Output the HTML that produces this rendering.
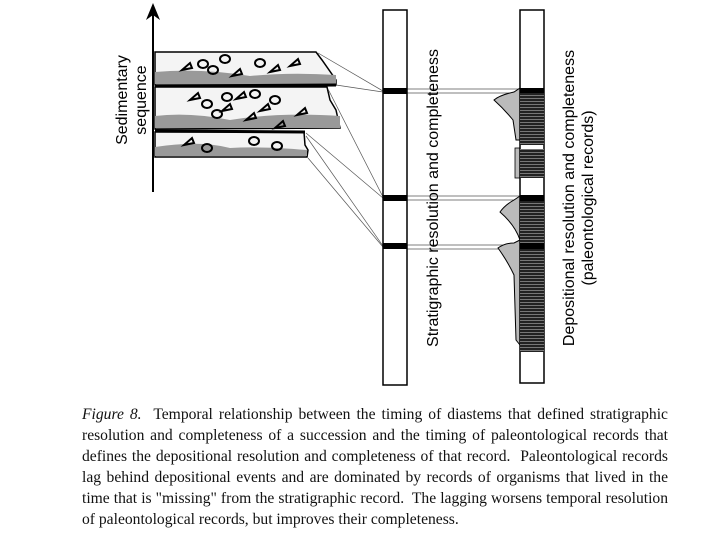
<!DOCTYPE html>
<html><head><style>
body{margin:0;background:#fff;width:720px;height:540px;overflow:hidden;position:relative}
.cap{position:absolute;left:82px;width:586px;font-family:"Liberation Serif",serif;font-size:15.6px;line-height:21px;text-align:justify;text-align-last:justify;white-space:nowrap;color:#111}
.cap.last{text-align-last:left}
</style></head><body>
<svg width="720" height="400" style="position:absolute;left:0;top:0" xmlns="http://www.w3.org/2000/svg">
<defs>
<pattern id="h" width="4" height="3" patternUnits="userSpaceOnUse"><rect width="4" height="3" fill="#222"/><rect y="2" width="4" height="1" fill="#777"/></pattern>
</defs>
<line x1="153" y1="14" x2="153" y2="192" stroke="#000" stroke-width="2"/>
<polygon points="153,3 146,20 153,15 160,20" fill="#000"/>
<text transform="translate(127,100) rotate(-90)" font-family="Liberation Sans,sans-serif" font-size="16" text-anchor="middle">Sedimentary</text>
<text transform="translate(146,100) rotate(-90)" font-family="Liberation Sans,sans-serif" font-size="16" text-anchor="middle">sequence</text>
<path d="M155,52 L316,52 L322,60 L336,80 L336,85 L155,85 Z" fill="#f4f4f4" stroke="#000" stroke-width="1.5"/>
<path d="M155,72 Q200,68 250,76 Q290,72 336,75 L336,84 L155,84Z" fill="#999"/>
<path d="M155,87 L327,87 L330,100 L336,110 L340,128 L155,129 Z" fill="#f4f4f4" stroke="#000" stroke-width="1.5"/>
<path d="M155,116 Q190,112 230,120 Q280,112 340,116 L340,128 L155,128Z" fill="#999"/>
<path d="M155,132 L304,132 L305,145 L308,150 L307,157 L155,157 Z" fill="#f4f4f4" stroke="#000" stroke-width="1.5"/>
<path d="M155,147 Q200,140 230,148 Q260,146 307,150 L307,156 L155,156Z" fill="#999"/>
<line x1="155" y1="86" x2="336" y2="85" stroke="#000" stroke-width="3"/>
<line x1="155" y1="131" x2="305" y2="132" stroke="#000" stroke-width="3"/>
<g fill="none" stroke="#000" stroke-width="2">
<path d="M182,70 l8,-7 l2,5z M232,76 l8,-7 l2,5z M270,72 l8,-7 l2,5z M290,66 l8,-7 l2,5z M236,99 l8,-7 l2,5z M222,111 l8,-7 l2,5z M260,111 l8,-7 l2,5z M297,115 l8,-7 l2,5z M190,100 l8,-7 l2,5z M184,145 l8,-7 l2,5z M246,120 l8,-7 l2,5z M275,128 l8,-7 l2,5z"/>
<ellipse cx="203" cy="64" rx="5" ry="4"/><ellipse cx="225" cy="59" rx="5" ry="4"/><ellipse cx="213" cy="70" rx="5" ry="4"/><ellipse cx="260" cy="63" rx="5" ry="4"/>
<ellipse cx="207" cy="104" rx="5" ry="4"/><ellipse cx="227" cy="97" rx="5" ry="4"/><ellipse cx="217" cy="114" rx="5" ry="4"/><ellipse cx="255" cy="94" rx="5" ry="4"/><ellipse cx="275" cy="100" rx="5" ry="4"/>
<ellipse cx="207" cy="148" rx="5" ry="4"/><ellipse cx="254" cy="141" rx="5" ry="4"/><ellipse cx="277" cy="146" rx="5" ry="4"/>
</g>
<g stroke="#555" stroke-width="0.7" fill="none">
<line x1="318" y1="53" x2="383" y2="91"/><line x1="336" y1="85" x2="383" y2="92"/>
<line x1="328" y1="89" x2="383" y2="197"/><line x1="306" y1="133" x2="383" y2="198"/>
<line x1="306" y1="136" x2="383" y2="246"/><line x1="308" y1="158" x2="383" y2="247"/>
<line x1="407" y1="89" x2="520" y2="89"/><line x1="407" y1="93" x2="520" y2="93"/>
<line x1="407" y1="196" x2="520" y2="196"/><line x1="407" y1="200" x2="520" y2="200"/>
<line x1="407" y1="245" x2="520" y2="245"/><line x1="407" y1="249" x2="520" y2="249"/>
</g>
<rect x="383" y="10" width="24" height="375" fill="#fff" stroke="#000" stroke-width="1.5"/>
<rect x="383" y="88" width="24" height="6" fill="#000"/>
<rect x="383" y="195" width="24" height="6" fill="#000"/>
<rect x="383" y="243" width="24" height="6" fill="#000"/>
<text transform="translate(438,198) rotate(-90)" font-family="Liberation Sans,sans-serif" font-size="16" text-anchor="middle">Stratigraphic resolution and completeness</text>
<path d="M520,88 L514,92 Q500,95 494,100 Q505,110 513,120 L516,140 L520,140Z" fill="#bbb" stroke="#000" stroke-width="1"/>
<path d="M520,196 L514,200 Q505,205 500,212 Q515,225 520,240Z" fill="#bbb" stroke="#000" stroke-width="1"/>
<path d="M520,240 L514,243 Q505,243 498,248 Q508,262 514,275 L516,340 L520,345Z" fill="#bbb" stroke="#000" stroke-width="1"/>
<rect x="515" y="148" width="5" height="30" fill="#bbb" stroke="#000" stroke-width="0.8"/>
<rect x="520" y="10" width="24" height="373" fill="#fff" stroke="#000" stroke-width="1.5"/>
<rect x="520" y="88" width="24" height="57" fill="url(#h)"/>
<rect x="520" y="149" width="24" height="29" fill="url(#h)"/>
<rect x="520" y="195" width="24" height="157" fill="url(#h)"/>
<rect x="520" y="88" width="24" height="5" fill="#000"/>
<rect x="520" y="195" width="24" height="6" fill="#000"/>
<rect x="520" y="243" width="24" height="6" fill="#000"/>
<text transform="translate(574,198) rotate(-90)" font-family="Liberation Sans,sans-serif" font-size="16" text-anchor="middle">Depositional resolution and completeness</text>
<text transform="translate(593,198) rotate(-90)" font-family="Liberation Sans,sans-serif" font-size="16" text-anchor="middle">(paleontological records)</text>
</svg>
<div class="cap" style="top:404px"><i>Figure 8.</i>&nbsp; Temporal relationship between the timing of diastems that defined stratigraphic</div>
<div class="cap" style="top:425px">resolution and completeness of a succession and the timing of paleontological records that</div>
<div class="cap" style="top:446px">defines the depositional resolution and completeness of that record.&nbsp; Paleontological records</div>
<div class="cap" style="top:467px">lag behind depositional events and are dominated by records of organisms that lived in the</div>
<div class="cap" style="top:488px">time that is "missing" from the stratigraphic record.&nbsp; The lagging worsens temporal resolution</div>
<div class="cap last" style="top:509px">of paleontological records, but improves their completeness.</div>
</body></html>
